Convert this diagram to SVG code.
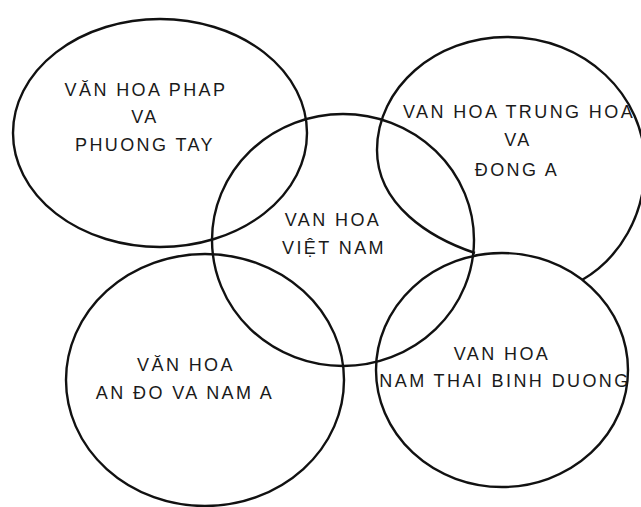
<svg xmlns="http://www.w3.org/2000/svg" width="641" height="507" viewBox="0 0 641 507">
<style>
.c{fill:none;stroke:#111;stroke-width:2.4}
text{font-family:"Liberation Sans",Arial,sans-serif;font-size:18px;letter-spacing:2.4px;fill:#1a1a1a;text-anchor:middle}
</style>
<rect width="641" height="507" fill="#fff"/>
<g id="phap">
<ellipse class="c" cx="160" cy="133" rx="147" ry="114"/>
<text x="146" y="96">VĂN HOA PHAP</text>
<text x="145" y="123">VA</text>
<text x="145" y="151">PHUONG TAY</text>
</g>
<g id="trunghoa">
<path class="c" d="M475 253 C430 238 377 205 377 150 C377 88 435 37 507 37 C585 37 645 95 645 165 C645 215 620 258 582 280"/>
<text x="519" y="118">VAN HOA TRUNG HOA</text>
<text x="518" y="146">VA</text>
<text x="517" y="176">ĐONG A</text>
</g>
<g id="vietnam">
<ellipse class="c" cx="343" cy="240" rx="131" ry="126"/>
<text x="333" y="226">VAN HOA</text>
<text x="334" y="254">VIỆT NAM</text>
</g>
<g id="ando">
<ellipse class="c" cx="205" cy="380" rx="139" ry="126"/>
<text x="186" y="371">VĂN HOA</text>
<text x="185" y="399">AN ĐO VA NAM A</text>
</g>
<g id="thaibinhduong">
<ellipse class="c" cx="502" cy="370" rx="126" ry="117"/>
<text x="502" y="360">VAN HOA</text>
<text x="505" y="387">NAM THAI BINH DUONG</text>
</g>
</svg>
